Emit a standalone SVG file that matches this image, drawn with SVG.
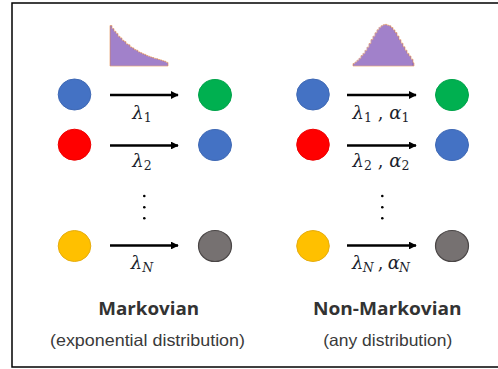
<svg xmlns="http://www.w3.org/2000/svg" width="498" height="369" viewBox="0 0 498 369">
<defs>
<style>
.frame{fill:#fff;stroke:#000;stroke-width:1.5}
.hist{fill:#9470c2;stroke:#e8a06a;stroke-width:0.7}
.bars{stroke:#c9b6e4;stroke-width:0.6;opacity:0.85}
.c-blue{fill:#4472C4;stroke:#3f69b5;stroke-width:1}
.c-green{fill:#00B050;stroke:#00a34a;stroke-width:1}
.c-red{fill:#FF0000;stroke:#ee0000;stroke-width:1}
.c-yellow{fill:#FFC000;stroke:#e6ad10;stroke-width:1}
.c-gray{fill:#767171;stroke:#4a4646;stroke-width:1.2}
.arr{stroke:#000;stroke-width:2.6;fill:none;marker-end:url(#ah)}
.lab{font-family:"DejaVu Serif","Liberation Serif",serif;font-style:italic;font-size:18px;fill:#1c1f2e}
.sub{font-size:12.5px}
.up{font-style:normal}
.dot{fill:#000}
.title{font-family:"Open Sans","Noto Sans",sans-serif;font-weight:bold;font-size:18.5px;fill:#333}
.subt{font-family:"Liberation Sans","Noto Sans",sans-serif;font-size:16.5px;fill:#3a3a3a}
</style>
<marker id="ah" viewBox="0 0 10 10" refX="9" refY="5" markerWidth="3" markerHeight="3" orient="auto" markerUnits="strokeWidth">
<path d="M0,0 L10,5 L0,10 z" fill="#000"/>
</marker>
</defs>
<rect class="frame" x="12" y="3" width="490" height="364"/>

<g id="hist-exp">
<path class="hist" d="M110,66 V25.5 H112 V28.6 H114 V31.3 H116 V33.4 H118 V36.3 H120 V37.9 H122 V40.3 H124 V41.6 H126 V43.9 H128 V44.8 H130 V47.0 H132 V47.9 H134 V49.6 H136 V50.3 H138 V51.9 H140 V52.7 H142 V53.8 H144 V54.4 H146 V55.5 H148 V56.3 H150 V57.0 H152 V57.6 H154 V58.4 H156 V58.8 H158 V59.5 H160 V60.0 H162 V60.8 H164 V61.3 H166 V62.4 H168 V66 Z"/>
<path class="bars" d="M112,28 V66 M114,31 V66 M116,33 V66 M118,36 V66 M120,38 V66 M122,40 V66 M124,42 V66 M126,44 V66 M128,45 V66 M130,47 V66 M132,48 V66 M134,50 V66 M136,50 V66 M138,52 V66 M140,53 V66 M142,54 V66 M144,55 V66 M146,56 V66 M148,56 V66 M150,57 V66 M152,58 V66 M154,58 V66 M156,59 V66 M158,60 V66 M160,60 V66 M162,61 V66 M164,62 V66 M166,62 V66"/>
</g>

<g id="hist-gauss">
<path class="hist" d="M353,66 V63.5 H355 V62.0 H357 V60.2 H359 V58.3 H361 V55.6 H363 V53.4 H365 V50.4 H367 V47.2 H369 V43.5 H371 V39.6 H373 V36.2 H375 V32.8 H377 V29.8 H379 V27.4 H381 V25.8 H383 V24.8 H385 V24.4 H387 V25.2 H389 V25.8 H391 V27.5 H393 V29.9 H395 V32.6 H397 V36.0 H399 V39.7 H401 V43.2 H403 V46.8 H405 V50.2 H407 V53.4 H409 V56.0 H411 V59.2 H413 V62.8 H414 V66 Z"/>
<path class="bars" d="M355,62 V66 M357,60 V66 M359,58 V66 M361,56 V66 M363,53 V66 M365,50 V66 M367,47 V66 M369,44 V66 M371,40 V66 M373,36 V66 M375,33 V66 M377,30 V66 M379,27 V66 M381,26 V66 M383,25 V66 M385,25 V66 M387,25 V66 M389,26 V66 M391,28 V66 M393,30 V66 M395,33 V66 M397,36 V66 M399,40 V66 M401,43 V66 M403,47 V66 M405,50 V66 M407,53 V66 M409,56 V66 M411,59 V66"/>
</g>

<g id="connectors">
<line class="arr" x1="110" y1="95" x2="178" y2="95"/>
<line class="arr" x1="110" y1="145.5" x2="178" y2="145.5"/>
<line class="arr" x1="110" y1="245.5" x2="178" y2="245.5"/>
<line class="arr" x1="347" y1="95" x2="416" y2="95"/>
<line class="arr" x1="347" y1="145.5" x2="416" y2="145.5"/>
<line class="arr" x1="347" y1="245.5" x2="416" y2="245.5"/>
</g>

<g id="m-src1"><ellipse class="c-blue" cx="74.5" cy="94.5" rx="16.3" ry="15.5"/></g>
<g id="m-dst1"><ellipse class="c-green" cx="215" cy="95" rx="16.5" ry="15.5"/></g>
<g id="m-src2"><ellipse class="c-red" cx="74.5" cy="144.7" rx="16.3" ry="15.5"/></g>
<g id="m-dst2"><ellipse class="c-blue" cx="215" cy="145" rx="16.5" ry="15.5"/></g>
<g id="m-srcN"><ellipse class="c-yellow" cx="74.5" cy="246" rx="16.3" ry="15.5"/></g>
<g id="m-dstN"><ellipse class="c-gray" cx="215" cy="246" rx="16.5" ry="15.5"/></g>

<g id="n-src1"><ellipse class="c-blue" cx="313" cy="94.5" rx="16.3" ry="15.5"/></g>
<g id="n-dst1"><ellipse class="c-green" cx="452" cy="95" rx="16.5" ry="15.5"/></g>
<g id="n-src2"><ellipse class="c-red" cx="313" cy="144.7" rx="16.3" ry="15.5"/></g>
<g id="n-dst2"><ellipse class="c-blue" cx="452" cy="145" rx="16.5" ry="15.5"/></g>
<g id="n-srcN"><ellipse class="c-yellow" cx="313" cy="246" rx="16.3" ry="15.5"/></g>
<g id="n-dstN"><ellipse class="c-gray" cx="452" cy="246" rx="16.5" ry="15.5"/></g>

<g id="labels">
<text class="lab" x="142" y="119" text-anchor="middle">λ<tspan class="sub up" dy="3">1</tspan></text>
<text class="lab" x="142" y="167" text-anchor="middle">λ<tspan class="sub up" dy="3">2</tspan></text>
<text class="lab" x="142" y="269" text-anchor="middle">λ<tspan class="sub" dy="3">N</tspan></text>
<text class="lab" x="381" y="119" text-anchor="middle" textLength="57" lengthAdjust="spacing">λ<tspan class="sub up" dy="3">1</tspan><tspan class="up" dy="-3"> , </tspan>α<tspan class="sub up" dy="3">1</tspan></text>
<text class="lab" x="381" y="167" text-anchor="middle" textLength="57" lengthAdjust="spacing">λ<tspan class="sub up" dy="3">2</tspan><tspan class="up" dy="-3"> , </tspan>α<tspan class="sub up" dy="3">2</tspan></text>
<text class="lab" x="381" y="269" text-anchor="middle" textLength="58" lengthAdjust="spacing">λ<tspan class="sub" dy="3">N</tspan><tspan class="up" dy="-3"> , </tspan>α<tspan class="sub" dy="3">N</tspan></text>
</g>

<g id="dots">
<circle class="dot" cx="144.3" cy="196" r="1.3"/>
<circle class="dot" cx="144.3" cy="207.3" r="1.3"/>
<circle class="dot" cx="144.3" cy="218.3" r="1.3"/>
<circle class="dot" cx="382.3" cy="196" r="1.3"/>
<circle class="dot" cx="382.3" cy="207.3" r="1.3"/>
<circle class="dot" cx="382.3" cy="218.3" r="1.3"/>
</g>

<g id="captions">
<text class="title" x="148.7" y="315" text-anchor="middle" textLength="101" lengthAdjust="spacingAndGlyphs">Markovian</text>
<text class="subt" x="147.5" y="346" text-anchor="middle" textLength="195" lengthAdjust="spacingAndGlyphs">(exponential distribution)</text>
<text class="title" x="387.3" y="315" text-anchor="middle" textLength="148.7" lengthAdjust="spacingAndGlyphs">Non-Markovian</text>
<text class="subt" x="387.8" y="346" text-anchor="middle" textLength="129" lengthAdjust="spacingAndGlyphs">(any distribution)</text>
</g>
</svg>
